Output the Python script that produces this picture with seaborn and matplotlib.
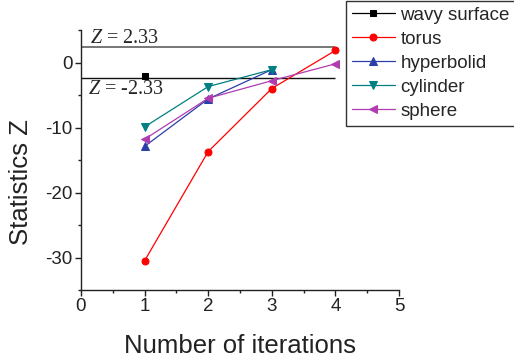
import matplotlib
matplotlib.use("Agg")
import matplotlib.pyplot as plt
from matplotlib.ticker import MultipleLocator
import pandas as pd
import seaborn as sns

# Z statistics per iteration for each test surface
iterations = [1, 2, 3, 4]
wavy_surface = [-2.0]
torus = [-30.5, -13.7, -4.0, 1.85]
hyperbolid = [-12.9, -5.6, -1.1]
cylinder = [-9.9, -3.7, -1.1]
sphere = [-11.8, -5.5, -2.8, -0.2]

# critical values of the test
z_upper = 2.33
z_lower = -2.33
z_line_span = [0, 4]

series = [
    ("wavy surface", wavy_surface, "#000000", "s", 4.5),
    ("torus", torus, "#ff0000", "o", 5.0),
    ("hyperbolid", hyperbolid, "#2b3fa8", "^", 5.5),
    ("cylinder", cylinder, "#008080", "v", 5.5),
    ("sphere", sphere, "#b03cb0", "<", 5.5),
]

sns.set_style("ticks")
plt.rcParams["font.family"] = ["Liberation Sans", "DejaVu Sans"]
plt.rcParams["mathtext.fontset"] = "custom"
plt.rcParams["mathtext.it"] = "Liberation Serif:italic"
plt.rcParams["mathtext.rm"] = "Liberation Serif"

fig = plt.figure(figsize=(5.14, 3.58), dpi=100)
ax = fig.add_axes([81 / 514, 1 - 290 / 358, 318 / 514, 260 / 358])

for name, vals, color, marker, ms in series:
    df = pd.DataFrame({"x": iterations[:len(vals)], "z": vals})
    sns.lineplot(data=df, x="x", y="z", ax=ax, color=color, marker=marker,
                 markersize=ms, markeredgecolor=color, linewidth=0.9,
                 label=name, zorder=3)

ax.hlines(z_upper, *z_line_span, color="#777777", linewidth=1.4, zorder=2)
ax.hlines(z_lower, *z_line_span, color="#111111", linewidth=1.0, zorder=2)

serif = ["Liberation Serif", "DejaVu Serif"]
ax.text(0.14, z_upper + 0.7, r"$Z$ = " + f"{z_upper}", fontsize=14.5,
        family=serif, ha="left", va="baseline")
ax.text(0.11, z_lower - 0.35, r"$Z$ = " + f"{z_lower}", fontsize=14.5,
        family=serif, ha="left", va="top")

ax.set_xlim(0, 5)
ax.set_ylim(-35, 5)
ax.xaxis.set_major_locator(MultipleLocator(1))
ax.xaxis.set_minor_locator(MultipleLocator(0.5))
ax.yaxis.set_minor_locator(MultipleLocator(5))
ax.set_yticks([0, -10, -20, -30])
ax.set_yticklabels(["0", "-10", "-20", "-30"])
ax.tick_params(which="major", direction="out", length=4, width=1,
               labelsize=13.5, colors="#222222", pad=2)
ax.tick_params(which="minor", direction="out", length=2.5, width=1,
               colors="#222222")

for side in ["top", "right"]:
    ax.spines[side].set_visible(False)
for side in ["left", "bottom"]:
    ax.spines[side].set_linewidth(1.0)
    ax.spines[side].set_color("#222222")

ax.set_xlabel("Number of iterations", fontsize=18.5, color="#222222")
ax.set_ylabel("Statistics Z", fontsize=18.5, color="#222222")
ax.xaxis.set_label_coords(0.5, -0.17)
ax.yaxis.set_label_coords(-0.15, 0.417)

handles, labels = ax.get_legend_handles_labels()
if ax.legend_:
    ax.legend_.remove()
leg = fig.legend(handles, labels, loc="upper left",
                 bbox_to_anchor=(346 / 514, 1 - 1 / 358), fontsize=13.5,
                 frameon=True, fancybox=False, framealpha=1,
                 edgecolor="#333333", borderaxespad=0, borderpad=0.3,
                 handlelength=2.3, handletextpad=0.3, labelspacing=0.37)
leg.get_frame().set_linewidth(1.0)

fig.savefig("out.png", dpi=100)
